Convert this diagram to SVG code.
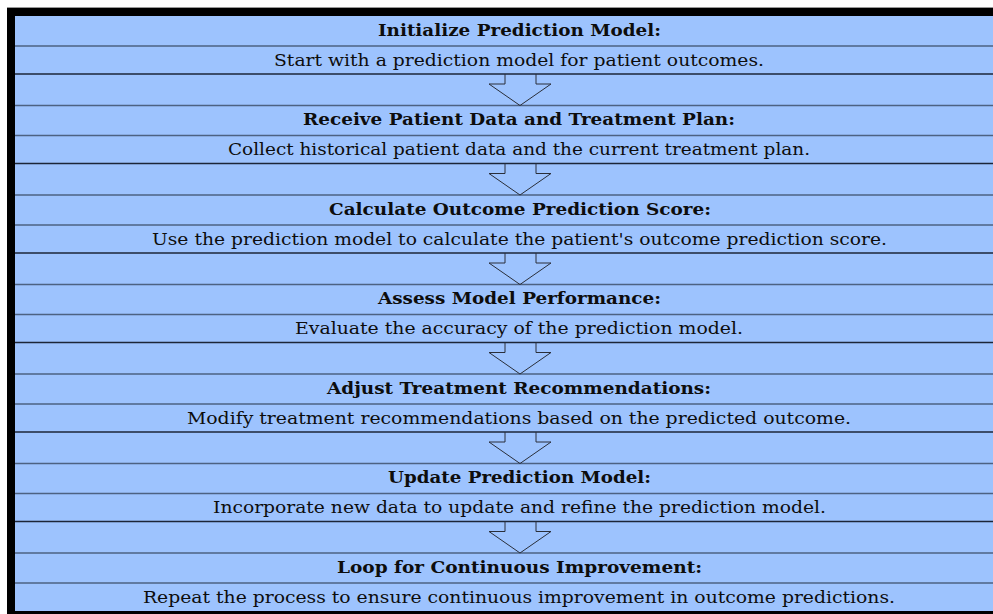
<svg xmlns="http://www.w3.org/2000/svg" width="993" height="614" viewBox="0 0 993 614">
<style>
.band{fill:#9dc3fe}
.sep1{stroke:#4d6282;stroke-width:1.6}
.sep2{stroke:#1c2638;stroke-width:1.6}
.t{font-family:"DejaVu Serif","Liberation Serif",serif;font-size:16px;fill:#0d0d0d;text-anchor:middle}
.b{font-weight:bold}
.arr{fill:none;stroke:#2a2f3a;stroke-width:1}
</style>
<rect x="0" y="0" width="993" height="614" fill="#ffffff"/>
<line x1="7" y1="7.5" x2="993" y2="7.5" stroke="#999" stroke-width="1"/>
<rect x="7" y="8" width="986" height="606" fill="#000"/>
<rect class="band" x="15" y="16" width="978" height="595"/>
<g id="lines">
<line class="sep1" x1="15" y1="46" x2="993" y2="46"/><line class="sep2" x1="15" y1="74" x2="993" y2="74"/><line class="sep1" x1="15" y1="105.5" x2="993" y2="105.5"/>
<line class="sep1" x1="15" y1="135.5" x2="993" y2="135.5"/><line class="sep2" x1="15" y1="163.5" x2="993" y2="163.5"/><line class="sep1" x1="15" y1="195" x2="993" y2="195"/>
<line class="sep1" x1="15" y1="225" x2="993" y2="225"/><line class="sep2" x1="15" y1="253" x2="993" y2="253"/><line class="sep1" x1="15" y1="284.5" x2="993" y2="284.5"/>
<line class="sep1" x1="15" y1="314.5" x2="993" y2="314.5"/><line class="sep2" x1="15" y1="342.5" x2="993" y2="342.5"/><line class="sep1" x1="15" y1="374" x2="993" y2="374"/>
<line class="sep1" x1="15" y1="404" x2="993" y2="404"/><line class="sep2" x1="15" y1="432" x2="993" y2="432"/><line class="sep1" x1="15" y1="463.5" x2="993" y2="463.5"/>
<line class="sep1" x1="15" y1="493.5" x2="993" y2="493.5"/><line class="sep2" x1="15" y1="521.5" x2="993" y2="521.5"/><line class="sep1" x1="15" y1="553" x2="993" y2="553"/>
<line class="sep1" x1="15" y1="583" x2="993" y2="583"/>
</g>
<g id="step1">
<text class="t b" x="519.5" y="35.5" textLength="283" lengthAdjust="spacingAndGlyphs">Initialize Prediction Model:</text>
<text class="t" x="519" y="65.5" textLength="490" lengthAdjust="spacingAndGlyphs">Start with a prediction model for patient outcomes.</text>
</g>
<g id="step2">
<text class="t b" x="519" y="125" textLength="432" lengthAdjust="spacingAndGlyphs">Receive Patient Data and Treatment Plan:</text>
<text class="t" x="519" y="155" textLength="582" lengthAdjust="spacingAndGlyphs">Collect historical patient data and the current treatment plan.</text>
</g>
<g id="step3">
<text class="t b" x="520" y="214.5" textLength="382" lengthAdjust="spacingAndGlyphs">Calculate Outcome Prediction Score:</text>
<text class="t" x="519.5" y="244.5" textLength="735" lengthAdjust="spacingAndGlyphs">Use the prediction model to calculate the patient's outcome prediction score.</text>
</g>
<g id="step4">
<text class="t b" x="519.5" y="304" textLength="283" lengthAdjust="spacingAndGlyphs">Assess Model Performance:</text>
<text class="t" x="519" y="334" textLength="448" lengthAdjust="spacingAndGlyphs">Evaluate the accuracy of the prediction model.</text>
</g>
<g id="step5">
<text class="t b" x="519" y="393.5" textLength="384" lengthAdjust="spacingAndGlyphs">Adjust Treatment Recommendations:</text>
<text class="t" x="519" y="423.5" textLength="664" lengthAdjust="spacingAndGlyphs">Modify treatment recommendations based on the predicted outcome.</text>
</g>
<g id="step6">
<text class="t b" x="519.5" y="483" textLength="263" lengthAdjust="spacingAndGlyphs">Update Prediction Model:</text>
<text class="t" x="519.5" y="513" textLength="613" lengthAdjust="spacingAndGlyphs">Incorporate new data to update and refine the prediction model.</text>
</g>
<g id="step7">
<text class="t b" x="519.5" y="572.5" textLength="365" lengthAdjust="spacingAndGlyphs">Loop for Continuous Improvement:</text>
<text class="t" x="519" y="602.5" textLength="752" lengthAdjust="spacingAndGlyphs">Repeat the process to ensure continuous improvement in outcome predictions.</text>
</g>
<g id="connectors">
<path class="arr" d="M505,74 V84 H489 L520,105.5 L551,84 H536 V74"/>
<path class="arr" d="M505,163.5 V173.5 H489 L520,195 L551,173.5 H536 V163.5"/>
<path class="arr" d="M505,253 V263 H489 L520,284.5 L551,263 H536 V253"/>
<path class="arr" d="M505,342.5 V352.5 H489 L520,374 L551,352.5 H536 V342.5"/>
<path class="arr" d="M505,432 V442 H489 L520,463.5 L551,442 H536 V432"/>
<path class="arr" d="M505,521.5 V531.5 H489 L520,553 L551,531.5 H536 V521.5"/>
</g>
</svg>
